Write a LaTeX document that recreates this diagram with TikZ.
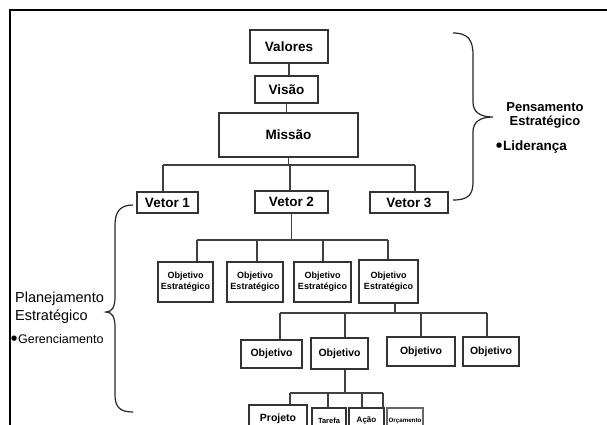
\documentclass[tikz,border=0pt]{standalone}
\usepackage{fontspec}
\setmainfont{Liberation Sans}
\newfontfamily\dejavu{DejaVu Sans}
\newcommand{\blt}{\raisebox{2.6bp}{\dejavu\fontsize{7bp}{8bp}\selectfont ●}\hspace{0.8bp}}
\begin{document}
\begin{tikzpicture}[x=1bp,y=-1bp,
  bx/.style={draw=black!80, line width=1.3bp, fill=white, inner sep=0pt, align=center,
    font=\bfseries\fontsize{13.5bp}{15bp}\selectfont},
  oe/.style={bx, font=\bfseries\fontsize{9bp}{11bp}\selectfont, minimum height=40bp},
  ob/.style={bx, font=\bfseries\fontsize{10.5bp}{12bp}\selectfont},
  sm/.style={bx, line width=1.1bp, minimum height=25bp},
  ln/.style={draw=black!75, line width=1.2bp},
  brace/.style={draw=black!85, line width=1.2bp},
  lbl/.style={inner sep=0pt, align=center}
]
\useasboundingbox (0,0) rectangle (607,424);
\clip (0,0) rectangle (607,424);
% frame
\draw[line width=1.3bp] (10,430) -- (10,10) -- (610,10);

% top chain
\node[bx, minimum width=78bp, minimum height=33bp] (valores) at (289,46.5) {Valores};
\node[bx, minimum width=63bp, minimum height=27bp] (visao) at (286.5,89.5) {Visão};
\node[bx, minimum width=139bp, minimum height=44bp] (missao) at (288.5,135) {Missão};
\draw[ln] (valores) -- (valores |- visao.north);
\draw[ln] (visao) -- (visao |- missao.north);

% vectors
\node[bx, minimum width=61bp, minimum height=21bp] (v1) at (167.5,202.5) {Vetor 1};
\node[bx, minimum width=73bp, minimum height=22bp] (v2) at (291.5,202) {Vetor 2};
\node[bx, minimum width=78bp, minimum height=21bp] (v3) at (409,202.5) {Vetor 3};
\coordinate (b1l) at (163,165);
\coordinate (b1r) at (415,165);
\coordinate (b1m) at (290,165);
\draw[ln] (missao.south) -- (missao.south |- b1l);
\draw[ln] (b1l) -- (b1r);
\draw[ln] (b1l) -- (b1l |- v1.north);
\draw[ln] (b1m) -- (b1m |- v2.north);
\draw[ln] (b1r) -- (b1r |- v3.north);

% strategic objectives
\node[oe, minimum width=55bp] (oe1) at (185.5,282) {Objetivo\\Estratégico};
\node[oe, minimum width=56bp] (oe2) at (255,282) {Objetivo\\Estratégico};
\node[oe, minimum width=57bp, line width=1.6bp] (oe3) at (322.5,282) {Objetivo\\Estratégico};
\node[oe, minimum width=59bp, minimum height=43bp, line width=1.6bp] (oe4) at (388.5,281.5) {Objetivo\\Estratégico};
\coordinate (b2l) at (197,240);
\coordinate (b2a) at (257,240);
\coordinate (b2b) at (323,240);
\coordinate (b2r) at (388,240);
\draw[ln] (v2.south) -- (v2.south |- b2l);
\draw[ln] (b2l) -- (b2r);
\draw[ln] (b2l) -- (b2l |- oe1.north);
\draw[ln, line width=1.8bp] (b2a) -- (b2a |- oe2.north);
\draw[ln] (b2b) -- (b2b |- oe3.north);
\draw[ln] (b2r) -- (b2r |- oe4.north);

% objectives
\node[ob, minimum width=61bp, minimum height=28bp] (ob1) at (271.5,354) {Objetivo};
\node[ob, minimum width=57bp, minimum height=31bp] (ob2) at (339.5,353.5) {Objetivo};
\node[ob, minimum width=68bp, minimum height=29bp] (ob3) at (421,351.5) {Objetivo};
\node[ob, minimum width=56bp, minimum height=29bp] (ob4) at (491,351.5) {Objetivo};
\coordinate (b3s) at (395,313);
\coordinate (b3l) at (280,313);
\coordinate (b3a) at (345,313);
\coordinate (b3b) at (421,313);
\coordinate (b3r) at (487,313);
\draw[ln] (oe4.south -| b3s) -- (b3s);
\draw[ln] (b3l) -- (b3r);
\draw[ln] (b3l) -- (b3l |- ob1.north);
\draw[ln] (b3a) -- (b3a |- ob2.north);
\draw[ln] (b3b) -- (b3b |- ob3.north);
\draw[ln] (b3r) -- (b3r |- ob4.north);

% bottom row
\node[sm, line width=1.6bp, minimum width=58bp, minimum height=27bp, font=\bfseries\fontsize{10.5bp}{12bp}\selectfont] (proj) at (278,418.5) {Projeto};
\node[sm, minimum width=34bp, font=\bfseries\fontsize{7.5bp}{8bp}\selectfont] (taref) at (329,420.5) {Tarefa};
\node[sm, minimum width=35bp, font=\bfseries\fontsize{8bp}{9bp}\selectfont] (acao) at (366.5,420.5) {Ação};
\node[sm, draw=black!60, minimum width=36bp, font=\bfseries\fontsize{6.2bp}{7bp}\selectfont] (orc) at (405,420.5) {Orçamento};
\coordinate (b4m) at (345,393);
\coordinate (b4l) at (290,393);
\coordinate (b4a) at (328,393);
\coordinate (b4b) at (362,393);
\coordinate (b4r) at (383,393);
\draw[ln] (ob2.south -| b4m) -- (b4m);
\draw[ln] (b4l) -- (b4r);
\draw[ln] (b4l) -- (b4l |- proj.north);
\draw[ln] (b4a) -- (b4a |- taref.north);
\draw[ln] (b4b) -- (b4b |- acao.north);
\draw[ln] (b4r) -- (b4r |- orc.north);

% right brace
\draw[brace] (453,33) .. controls (468,33) and (473,40) .. (473,55) -- (473,102)
  .. controls (473,112) and (480,117) .. (493,117)
  .. controls (480,117) and (473,122) .. (473,132) -- (473,182)
  .. controls (473,195) and (468,200) .. (453,200);
\node[lbl, font=\bfseries\fontsize{13bp}{13.5bp}\selectfont] (pens) at (545,115.5) {Pensamento\\Estratégico};
\node[lbl, anchor=west, font=\bfseries\fontsize{13.5bp}{14bp}\selectfont] (lid) at (496,147) {\blt Liderança};

% left brace
\draw[brace] (133,205) .. controls (120,205) and (115,212) .. (115,225) -- (115,297)
  .. controls (115,307) and (112,312) .. (106,312)
  .. controls (112,312) and (115,317) .. (115,327) -- (115,395)
  .. controls (115,407) and (120,412) .. (133,412);
\node[lbl, anchor=west, align=left, font=\fontsize{14.5bp}{18bp}\selectfont] (plan) at (15,307.5) {Planejamento\\Estratégico};
\node[lbl, anchor=west, font=\fontsize{12.5bp}{13bp}\selectfont] (ger) at (11,339) {\blt Gerenciamento};
\end{tikzpicture}
\end{document}
